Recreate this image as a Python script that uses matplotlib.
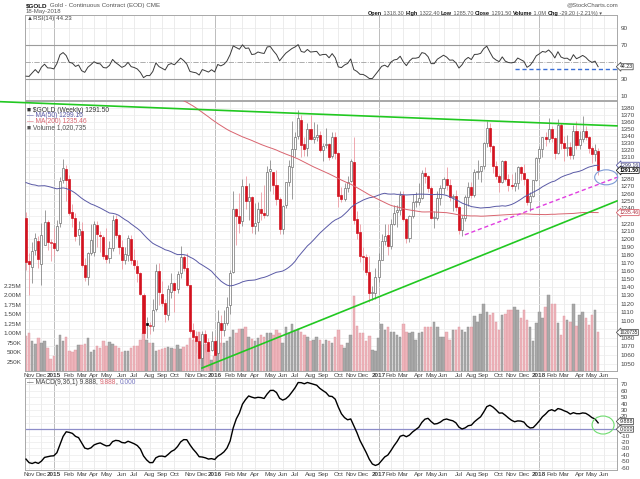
import numpy as np
import pandas as pd
import matplotlib
matplotlib.use("Agg")
import matplotlib.pyplot as plt
from matplotlib.patches import Ellipse
from matplotlib.ticker import NullLocator
from matplotlib.transforms import ScaledTranslation, blended_transform_factory

plt.rcParams["font.family"] = ["Liberation Sans", "DejaVu Sans"]

# weekly closes before the visible window (warm-up for MA / RSI / MACD), Dec 16 2011 .. Oct 24 2014
pre_close = [
    1598, 1606, 1566,
    # 2012
    1617, 1631, 1665, 1726, 1725, 1725, 1725, 1776, 1710, 1711, 1659, 1663, 1669,
    1640, 1659, 1642, 1663, 1643, 1583, 1592, 1572, 1622, 1595, 1627, 1572, 1604,
    1580, 1590, 1584, 1622, 1603, 1621, 1616, 1671, 1691, 1740, 1772, 1775, 1776,
    1781, 1758, 1724, 1711, 1676, 1731, 1713, 1752, 1712, 1704, 1697, 1658, 1656,
    # 2013
    1656, 1661, 1687, 1658, 1667, 1667, 1610, 1572, 1572, 1577, 1592, 1608, 1598,
    1580, 1476, 1405, 1463, 1470, 1435, 1365, 1386, 1393, 1383, 1388, 1298, 1234,
    1223, 1277, 1295, 1332, 1311, 1313, 1376, 1395, 1396, 1387, 1309, 1326, 1337,
    1310, 1272, 1315, 1352, 1316, 1285, 1288, 1244, 1250, 1230, 1235, 1197, 1214,
    # 2014
    1238, 1247, 1254, 1270, 1245, 1263, 1319, 1323, 1326, 1340, 1379, 1335, 1294,
    1303, 1318, 1294, 1301, 1302, 1290, 1293, 1292, 1246, 1252, 1274, 1316, 1320,
    1320, 1337, 1310, 1307, 1294, 1309, 1306, 1280, 1287, 1268, 1231, 1216, 1218,
    1192, 1222, 1238, 1231,
]

# visible weekly candles, week ending Oct 31 2014 .. May 18 2018
first_week = "2014-10-31"
week_open = [
    1228, 1172, 1165, 1186, 1197, 1168, 1193, 1222, 1195, 1195,
    1186, 1221, 1278, 1293, 1280, 1235, 1228, 1205, 1211, 1167,
    1153, 1182, 1184, 1218, 1205, 1203, 1180, 1176, 1189, 1226,
    1205, 1190, 1173, 1180, 1200, 1173, 1166, 1157, 1131, 1097,
    1094, 1094, 1114, 1160, 1132, 1121, 1107, 1134, 1145, 1138,
    1157, 1177, 1163, 1142, 1089, 1082, 1076, 1057, 1084, 1075,
    1066, 1076, 1063, 1097, 1089, 1097, 1118, 1158, 1239, 1230,
    1224, 1270, 1250, 1255, 1217, 1222, 1239, 1234, 1231, 1291,
    1290, 1272, 1252, 1213, 1245, 1276, 1296, 1322, 1340, 1363,
    1328, 1323, 1350, 1336, 1339, 1341, 1320, 1327, 1328, 1311,
    1338, 1316, 1258, 1252, 1267, 1277, 1303, 1226, 1209, 1178,
    1177, 1159, 1133, 1133, 1152, 1173, 1197, 1205, 1191, 1220,
    1235, 1238, 1258, 1226, 1202, 1230, 1249, 1249, 1254, 1288,
    1284, 1268, 1228, 1228, 1254, 1267, 1280, 1271, 1255, 1256,
    1242, 1212, 1228, 1255, 1269, 1258, 1290, 1291, 1297, 1330,
    1351, 1325, 1297, 1284, 1275, 1304, 1280, 1272, 1270, 1274,
    1296, 1288, 1280, 1248, 1257, 1278, 1309, 1322, 1338, 1335,
    1350, 1337, 1316, 1356, 1330, 1323, 1324, 1313, 1347, 1327,
    1336, 1347, 1338, 1323, 1314, 1318.3,
]
week_high = [
    1235, 1182, 1196, 1208, 1204, 1221, 1238, 1225, 1200, 1215,
    1225, 1282, 1307, 1299, 1285, 1246, 1234, 1224, 1222, 1176,
    1183, 1220, 1224, 1224, 1210, 1205, 1214, 1198, 1232, 1231,
    1207, 1199, 1190, 1205, 1205, 1187, 1174, 1159, 1133, 1104,
    1098, 1126, 1168, 1170, 1148, 1125, 1143, 1157, 1146, 1160,
    1191, 1180, 1182, 1143, 1097, 1088, 1085, 1088, 1089, 1080,
    1088, 1082, 1113, 1107, 1112, 1128, 1161, 1263, 1241, 1261,
    1280, 1284, 1274, 1256, 1247, 1248, 1262, 1271, 1297, 1306,
    1290, 1292, 1255, 1245, 1276, 1306, 1362, 1345, 1377, 1370,
    1338, 1358, 1370, 1360, 1357, 1347, 1330, 1352, 1330, 1345,
    1345, 1317, 1269, 1274, 1284, 1308, 1338, 1237, 1220, 1190,
    1181, 1178, 1141, 1163, 1182, 1207, 1220, 1220, 1226, 1245,
    1245, 1264, 1264, 1227, 1232, 1260, 1262, 1274, 1292, 1296,
    1285, 1270, 1237, 1264, 1271, 1283, 1296, 1280, 1259, 1265,
    1243, 1232, 1258, 1275, 1276, 1294, 1306, 1298, 1331, 1362,
    1358, 1327, 1304, 1286, 1306, 1306, 1286, 1287, 1289, 1297,
    1298, 1301, 1281, 1262, 1279, 1310, 1326, 1339, 1345, 1366,
    1355, 1339, 1364, 1358, 1340, 1341, 1331, 1356, 1362, 1347,
    1369, 1354, 1340, 1326, 1328, 1322.4,
]
week_low = [
    1161, 1131, 1145, 1180, 1164, 1142, 1192, 1186, 1172, 1178,
    1185, 1216, 1274, 1250, 1232, 1216, 1197, 1192, 1165, 1147,
    1142, 1180, 1178, 1190, 1183, 1175, 1170, 1170, 1185, 1201,
    1181, 1162, 1169, 1172, 1168, 1162, 1146, 1130, 1077, 1080,
    1084, 1088, 1111, 1118, 1117, 1098, 1101, 1127, 1110, 1133,
    1151, 1160, 1141, 1085, 1076, 1062, 1050, 1046, 1064, 1046,
    1065, 1058, 1061, 1071, 1082, 1095, 1108, 1157, 1192, 1208,
    1217, 1239, 1225, 1208, 1207, 1210, 1225, 1227, 1230, 1264,
    1260, 1245, 1206, 1206, 1240, 1270, 1252, 1310, 1335, 1310,
    1312, 1311, 1334, 1330, 1333, 1317, 1304, 1323, 1306, 1309,
    1308, 1242, 1248, 1250, 1262, 1275, 1220, 1200, 1171, 1161,
    1155, 1122, 1124, 1126, 1146, 1173, 1193, 1180, 1188, 1218,
    1216, 1231, 1224, 1195, 1196, 1228, 1242, 1245, 1252, 1274,
    1262, 1226, 1215, 1225, 1245, 1259, 1265, 1250, 1237, 1236,
    1206, 1204, 1224, 1243, 1254, 1255, 1280, 1276, 1294, 1324,
    1317, 1288, 1280, 1262, 1274, 1277, 1264, 1266, 1264, 1266,
    1279, 1272, 1244, 1236, 1255, 1277, 1303, 1310, 1325, 1332,
    1331, 1307, 1314, 1322, 1304, 1312, 1307, 1308, 1322, 1322,
    1331, 1334, 1316, 1302, 1304, 1285.7,
]
week_close = [
    1171, 1169, 1185, 1201, 1175, 1205, 1222, 1196, 1195, 1189,
    1217, 1277, 1295, 1278, 1234, 1228, 1204, 1213, 1167, 1152,
    1182, 1199, 1219, 1207, 1204, 1178, 1175, 1189, 1225, 1205,
    1190, 1173, 1181, 1201, 1173, 1167, 1157, 1132, 1085, 1095,
    1094, 1113, 1160, 1134, 1121, 1108, 1138, 1145, 1137, 1156,
    1177, 1163, 1142, 1088, 1081, 1076, 1057, 1084, 1075, 1065,
    1076, 1060, 1098, 1089, 1097, 1116, 1157, 1239, 1230, 1221,
    1270, 1250, 1255, 1217, 1221, 1239, 1234, 1231, 1290, 1294,
    1272, 1252, 1213, 1243, 1275, 1298, 1322, 1339, 1366, 1327,
    1322, 1350, 1335, 1338, 1341, 1320, 1326, 1327, 1310, 1338,
    1316, 1257, 1252, 1267, 1276, 1304, 1225, 1208, 1178, 1177,
    1159, 1133, 1133, 1152, 1173, 1197, 1204, 1191, 1220, 1234,
    1238, 1258, 1226, 1201, 1230, 1249, 1249, 1254, 1288, 1284,
    1268, 1228, 1228, 1254, 1267, 1280, 1271, 1255, 1256, 1242,
    1212, 1228, 1255, 1269, 1258, 1290, 1291, 1297, 1330, 1351,
    1325, 1297, 1284, 1275, 1304, 1280, 1272, 1270, 1274, 1296,
    1288, 1280, 1248, 1257, 1278, 1309, 1322, 1338, 1335, 1350,
    1337, 1316, 1356, 1330, 1323, 1324, 1313, 1347, 1327, 1336,
    1347, 1338, 1323, 1314, 1320, 1291.5,
]
# weekly volume, thousands of contracts
week_volume = [
    930, 1000, 780, 720, 870, 740, 780, 600, 320, 400,
    690, 960, 780, 900, 520, 490, 560, 690, 690, 700,
    880, 490, 560, 650, 600, 780, 650, 770, 720, 650,
    600, 490, 540, 520, 600, 660, 650, 820, 1000, 820,
    740, 740, 540, 560, 580, 610, 630, 620, 590, 690,
    590, 640, 690, 870, 820, 780, 1040, 690, 700, 550,
    300, 400, 780, 740, 750, 780, 900, 1070, 1000, 1120,
    1100, 1150, 900, 850, 780, 870, 960, 900, 1000, 1000,
    950, 1070, 1000, 740, 1150, 1000, 1250, 1070, 1100, 1040,
    960, 900, 780, 830, 900, 820, 720, 820, 780, 740,
    900, 1090, 690, 610, 750, 950, 1990, 1200, 1000, 1000,
    780, 920, 560, 520, 870, 1250, 1090, 1170, 1040, 1040,
    960, 900, 1250, 1020, 1000, 1040, 830, 1000, 1040, 1170,
    1150, 1170, 1300, 1170, 900, 900, 1040, 830, 1070, 1090,
    1150, 1090, 1040, 1150, 1150, 1460, 1300, 1500, 1780, 1570,
    1480, 1520, 1290, 1090, 1480, 1500, 1600, 1620, 1700, 1600,
    1400, 1620, 1350, 1170, 790, 1270, 1570, 1400, 1700, 2010,
    1780, 1770, 1270, 960, 1460, 1350, 1300, 1780, 1200, 1480,
    1570, 1400, 1220, 1480, 1600, 1020,
]

# hand-drawn annotation lines (week index, price)
resist_wk, resist_px = [-8.4, 191.1], [1390, 1354.5]
support_wk, support_px = [56.9, 191.1], [1045.5, 1250]
channel_wk, channel_px = [141.9, 191.1], [1205.6, 1282]
rsi_mark_wk, rsi_mark_val = [158.1, 191.1], [41.8, 41.8]

price_ticks = list(range(1050, 1390, 10))
price_hidden = [1300, 1290, 1230, 1090]  # covered by the value tags in the original
vol_ticks = [250e3, 500e3, 750e3, 1.0e6, 1.25e6, 1.5e6, 1.75e6, 2.0e6, 2.25e6]
vol_labels = ["250K", "500K", "750K", "1.00M", "1.25M", "1.50M", "1.75M", "2.00M", "2.25M"]
rsi_ticks = [10, 30, 50, 70, 90]
macd_ticks = list(range(-60, 80, 10))

# ---- indicators
close_all = pd.Series(pre_close + week_close, dtype=float)
n_pre = len(pre_close)
ma50 = close_all.rolling(50).mean().values[n_pre:]
ma200 = close_all.rolling(200).mean().values[n_pre:]
delta = close_all.diff()
gain = delta.clip(lower=0).ewm(alpha=1 / 14, adjust=False).mean()
loss = (-delta.clip(upper=0)).ewm(alpha=1 / 14, adjust=False).mean()
rsi = (100 - 100 / (1 + gain / loss)).values[n_pre:]
macd = (close_all.ewm(span=9, adjust=False).mean()
        - close_all.ewm(span=36, adjust=False).mean()).values[n_pre:]

o = np.array(week_open, dtype=float)
h = np.array(week_high, dtype=float)
l = np.array(week_low, dtype=float)
c = np.array(week_close, dtype=float)
v = np.array(week_volume, dtype=float) * 1000
x = np.arange(len(c))
prev = np.r_[pre_close[-1], c[:-1]]
up = c >= prev
hollow = c >= o

# month grid positions: first weekly bar of each month
dates = pd.date_range(first_week, periods=192, freq="W-FRI")
idx = pd.Series(np.arange(len(dates)), index=dates)
firsts = idx.groupby([dates.year, dates.month]).first().iloc[1:]
month_idx = list(firsts.values)
month_lab = [str(y) if m == 1 else pd.Timestamp(y, m, 1).strftime("%b") for (y, m) in firsts.index]
is_year = [m == 1 for (y, m) in firsts.index]

XLIM = (-0.32, 191.1)
W, H = 640, 479
fig = plt.figure(figsize=(W / 100, H / 100), dpi=100)


def rect(x0, y0, x1, y1):
    return [x0 / W, 1 - y1 / H, (x1 - x0) / W, (y1 - y0) / H]


ax_rsi = fig.add_axes(rect(25, 15, 617, 100))
ax_vol = fig.add_axes(rect(25, 101, 617, 371))
ax_px = fig.add_axes(rect(25, 101, 617, 371))
ax_macd = fig.add_axes(rect(25, 378, 617, 470))

TXT = "#444444"
FS = 4.6
TAG_X = (619.5 - 25) / 592


def month_grid(ax):
    for i, yr in zip(month_idx, is_year):
        ax.axvline(i, color="#bcbcbc" if yr else "#e4e4e4", lw=0.7 if yr else 0.5, zorder=0)


def frame(ax):
    for s in ax.spines.values():
        s.set_color("#a8a8a8")
        s.set_linewidth(0.7)
    ax.tick_params(length=0, labelsize=FS, colors=TXT, pad=2.5)
    ax.set_xlim(*XLIM)


def tag(ax, y, s, edge, tc, trans=None, bold=False, size=3.8):
    ax.text(TAG_X, y, s, transform=trans if trans is not None else ax.get_yaxis_transform(),
            fontsize=size, color=tc, va="center", ha="left", clip_on=False, zorder=20,
            fontweight="bold" if bold else "normal",
            bbox=dict(boxstyle="larrow,pad=0.1", fc="white", ec=edge, lw=0.6))


def right_ticks(ax, ticks, hidden=()):
    ax.yaxis.tick_right()
    ax.set_yticks(ticks)
    ax.set_yticklabels(["" if t in hidden else str(t) for t in ticks])


# ---- RSI panel
frame(ax_rsi)
ax_rsi.set_ylim(5, 105)
month_grid(ax_rsi)
for lv in (10, 90):
    ax_rsi.axhline(lv, color="#e8e8e8", lw=0.5, zorder=0)
ax_rsi.axhline(70, color="#9c9c9c", lw=0.8, zorder=1)
ax_rsi.axhline(30, color="#9c9c9c", lw=0.8, zorder=1)
ax_rsi.axhline(50, color="#a0a0a0", lw=0.6, ls="-.", zorder=1)
ax_rsi.plot(x, rsi, color="#3a3a3a", lw=0.7, zorder=3)
ax_rsi.plot(rsi_mark_wk, rsi_mark_val, ls=(0, (3, 2)), color="#3b6fd6", lw=1.0, clip_on=False, zorder=4)
right_ticks(ax_rsi, rsi_ticks, hidden=[50])
ax_rsi.set_xticks([])
ax_rsi.text(0.003, 0.985, "\u25b2RSI(14) 44.23", transform=ax_rsi.transAxes, fontsize=4.4,
            color=TXT, va="top", ha="left")
tag(ax_rsi, rsi[-1], "44.23", "#555555", "#222222")

# ---- volume (underneath the candles)
frame(ax_vol)
ax_vol.set_ylim(0, 7.13e6)
month_grid(ax_vol)
grid_tr = blended_transform_factory(ax_vol.transAxes, ax_px.transData)
for p in price_ticks:
    ax_vol.plot([0, 1], [p, p], transform=grid_tr, color="#ececec", lw=0.5, zorder=0)
ax_vol.bar(x, v, width=0.8, color=np.where(up, "#a9a9a9", "#eeb4bb"),
           edgecolor=np.where(up, "#8e8e8e", "#dc98a0"), linewidth=0.3, zorder=2)
ax_vol.set_yticks(vol_ticks)
ax_vol.set_yticklabels(vol_labels)
ax_vol.set_xticks(month_idx)
ax_vol.set_xticklabels(month_lab)
for t, yr in zip(ax_vol.get_xticklabels(), is_year):
    if yr:
        t.set_fontweight("bold")
ax_vol.tick_params(axis="x", pad=1.5)

# ---- price candles
ax_px.patch.set_visible(False)
for s in ax_px.spines.values():
    s.set_visible(False)
ax_px.set_yscale("log")
ax_px.set_xlim(*XLIM)
ax_px.set_ylim(1042.2, 1391)
edge = np.where(up, "#707070", "#d3121f")
face = np.where(hollow, "white", np.where(up, "black", "#d3121f"))
wick = np.where(up, "#8c8c8c", "#ec9aa2")
ax_px.vlines(x, l, h, colors=wick, linewidth=0.6, zorder=2)
ax_px.bar(x, np.maximum(np.abs(c - o), 0.8), bottom=np.minimum(o, c), width=0.66,
          color=face, edgecolor=np.where(up & ~hollow, "black", edge), linewidth=0.5, zorder=3)
ax_px.plot(x, ma50, color="#5a5aa6", lw=0.7, zorder=4)
ax_px.plot(x, ma200, color="#d9646f", lw=0.7, zorder=4)
ax_px.plot(resist_wk, resist_px, color="#21c821", lw=1.2, clip_on=False, zorder=6)
ax_px.plot(support_wk, support_px, color="#21c821", lw=1.2, clip_on=False, zorder=6)
ax_px.plot(channel_wk, channel_px, color="#e03ee0", lw=1.0, ls=(0, (3, 2)), clip_on=False, zorder=6)
circ = Ellipse((0, 0), 0.23, 0.15, fill=False, ec="#7d9ad6", lw=0.8, clip_on=False, zorder=7,
               transform=fig.dpi_scale_trans + ScaledTranslation(187.6, 1282, ax_px.transData))
ax_px.add_patch(circ)
right_ticks(ax_px, price_ticks, hidden=price_hidden)
ax_px.yaxis.set_minor_locator(NullLocator())
ax_px.set_xticks([])
ax_px.tick_params(length=0, labelsize=FS, colors=TXT, pad=2.5)

legend_rows = [
    ("\u25a0 $GOLD (Weekly) 1291.50", "#333333", 110),
    ("\u2014 MA(50) 1299.16", "#5a5aa6", 115.7),
    ("\u2014 MA(200) 1235.46", "#d9646f", 121.5),
    ("\u25a0 Volume 1,020,735", "#555555", 127.2),
]
for s, col, ypx in legend_rows:
    ax_px.text(0.004, (371 - ypx) / 270, s, transform=ax_px.transAxes, fontsize=4.8,
               color=col, va="center", ha="left", zorder=8)

tag(ax_px, ma50[-1], "1299.16", "#5a5aa6", "#333366")
tag(ax_px, c[-1], "1291.50", "#222222", "#000000", bold=True)
tag(ax_px, ma200[-1], "1235.46", "#d9646f", "#b03040")
tag(ax_px, v[-1], "1020735", "#555555", "#222222", size=3.4,
    trans=blended_transform_factory(ax_px.transAxes, ax_vol.transData))

# ---- MACD panel
frame(ax_macd)
ax_macd.set_ylim(-63.6, 79.8)
month_grid(ax_macd)
for lv in macd_ticks:
    ax_macd.axhline(lv, color="#ececec", lw=0.5, zorder=0)
ax_macd.axhline(0, color="#8d8dc9", lw=0.9, zorder=2)
ax_macd.plot(x, macd, color="black", lw=1.0, zorder=3)
ring = Ellipse((0, 0), 0.22, 0.18, fill=False, ec="#6fdc6f", lw=0.8, clip_on=False, zorder=7,
               transform=fig.dpi_scale_trans + ScaledTranslation(186.6, 6.5, ax_macd.transData))
ax_macd.add_patch(ring)
right_ticks(ax_macd, macd_ticks, hidden=[10, 0])
ax_macd.set_xticks(month_idx)
ax_macd.set_xticklabels(month_lab)
for t, yr in zip(ax_macd.get_xticklabels(), is_year):
    if yr:
        t.set_fontweight("bold")
ax_macd.tick_params(axis="x", pad=1.5)
tag(ax_macd, 12.0, "9.888", "#555555", "#222222")
tag(ax_macd, 0.0, "0.000", "#555555", "#222222")


def chain(ax, parts, x0, y0, size):
    """place differently coloured / weighted pieces of text one after another"""
    s, col, wt = parts[0]
    t = ax.text(x0 / W, 1 - y0 / H, s, transform=fig.transFigure, fontsize=size,
                color=col, fontweight=wt, va="bottom", ha="left")
    for s, col, wt in parts[1:]:
        t = ax.annotate(s, xy=(1, 0), xycoords=t, fontsize=size, color=col,
                        fontweight=wt, va="bottom", ha="left")


chain(ax_macd, [("\u2014 MACD(9,36,1) 9.888, ", TXT, "normal"), ("9.888", "#d9646f", "normal"),
                (", ", TXT, "normal"), ("0.000", "#7b7bc4", "normal")], 27, 386.5, 4.8)

# ---- header
chain(ax_rsi, [("$GOLD", "#111111", "bold"), (" Gold - Continuous Contract (EOD) CME", "#555555", "normal")],
      26, 8.5, 4.5)
fig.text(26 / W, 1 - 11.5 / H, "18-May-2018", fontsize=4.3, color="#555555", va="center", ha="left")
fig.text(618 / W, 1 - 5 / H, "@StockCharts.com", fontsize=4.3, color="#555555", va="center", ha="right")
chain(ax_rsi, [("Open", "#111111", "bold"), (" 1318.30 ", "#555555", "normal"),
               ("High", "#111111", "bold"), (" 1322.40 ", "#555555", "normal"),
               ("Low", "#111111", "bold"), (" 1285.70 ", "#555555", "normal"),
               ("Close", "#111111", "bold"), (" 1291.50 ", "#555555", "normal"),
               ("Volume", "#111111", "bold"), (" 1.0M ", "#555555", "normal"),
               ("Chg", "#111111", "bold"), (" -29.20 (-2.21%) \u25be", "#555555", "normal")],
      368, 16, 3.95)

fig.savefig("out.png", dpi=100)
